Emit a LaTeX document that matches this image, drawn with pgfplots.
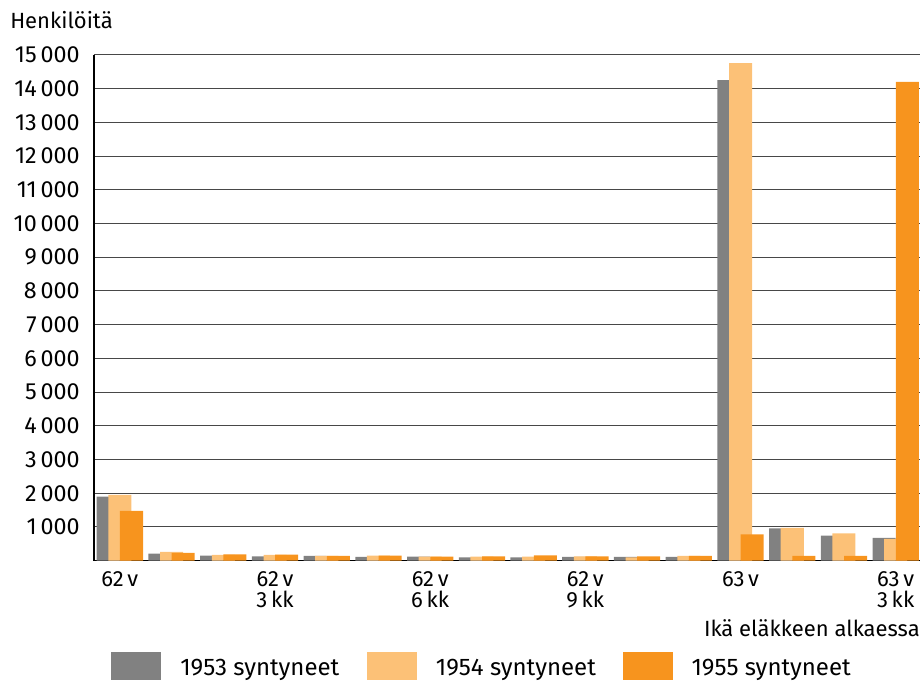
\documentclass[border=0pt]{standalone}
\usepackage{pgfplots}
\pgfplotsset{compat=1.18}
\usepackage{fontspec}
\setmainfont{Fira Sans}
\definecolor{cgrey}{HTML}{818181}
\definecolor{clight}{HTML}{FCC177}
\definecolor{cdark}{HTML}{F7941E}
\newcommand{\lfont}{\fontsize{16.5}{16}\selectfont}
\newcommand{\tfont}{\fontsize{17.5}{17}\selectfont}
\newcommand{\legfont}{\fontsize{18}{18}\selectfont}
\newcommand{\legentry}[1]{\raisebox{3.5pt}{\makebox[140pt][l]{#1}}}
\begin{document}
\begin{tikzpicture}
\useasboundingbox (-70.5pt,-90.225pt) rectangle (620.25pt,420.525pt);
\begin{axis}[
  at={(0pt,0pt)}, anchor=south west,
  scale only axis, width=619.5pt, height=379.3pt,
  xmin=-0.5, xmax=15.47, ymin=0, ymax=15000,
  axis lines=left, axis line style={-, black, line width=0.9pt},
  major tick length=0pt,
  ymajorgrids, grid style={black!72, line width=0.75pt},
  ytick={1000,2000,...,15000},
  scaled y ticks=false,
  /pgf/number format/.cd, 1000 sep={\,}, assume math mode=true, /pgfplots/.cd,
  yticklabel style={font=\tfont, inner sep=0pt, xshift=-10.5pt},
  xtick={0,3,6,9,12,15},
  xticklabels={{62\,v}, {62\,v\\3\,kk}, {62\,v\\6\,kk}, {62\,v\\9\,kk}, {63\,v}, {63\,v\\3\,kk}},
  xticklabel style={font=\lfont, align=center, inner sep=0pt, yshift=-8pt},
  legend columns=3,
  legend style={at={(rel axis cs:0,0)}, anchor=north west, xshift=12.75pt, yshift=-68.5pt,
    draw=none, fill=none, inner sep=0pt, column sep=0pt,
    nodes={inner sep=0pt}, font=\legfont},
  legend image code/.code={\fill[#1] (0pt,-7pt) rectangle (37.5pt,14pt); \path (51.75pt,0pt);},
  clip=false,
]
\addplot[ybar, bar width=0.445, bar shift=-0.225, fill=cgrey, draw=none] coordinates {
(0,1900) (1,210) (2,150) (3,130) (4,140) (5,110) (6,120) (7,100) (8,100) (9,110) (10,110) (11,110) (12,14250) (13,960) (14,740) (15,675)};
\addplot[ybar, bar width=0.445, bar shift=0, fill=clight, draw=none] coordinates {
(0,1950) (1,265) (2,170) (3,170) (4,140) (5,150) (6,120) (7,120) (8,120) (9,130) (10,100) (11,140) (12,14760) (13,970) (14,810) (15,645)};
\addplot[ybar, bar width=0.445, bar shift=0.225, fill=cdark, draw=none] coordinates {
(0,1475) (1,230) (2,190) (3,180) (4,140) (5,150) (6,120) (7,130) (8,160) (9,130) (10,130) (11,140) (12,780) (13,140) (14,140) (15,14200)};
\legend{\legentry{1953 syntyneet}, \legentry{1954 syntyneet}, \legentry{1955 syntyneet}}
\node[anchor=north east, inner sep=0pt, font=\lfont] at (rel axis cs:1,0) [yshift=-44pt] {Ikä eläkkeen alkaessa};
\node[anchor=north west, inner sep=0pt, font=\lfont] at (rel axis cs:0,1) [xshift=-63pt, yshift=33pt] {Henkilöitä};
\end{axis}
\end{tikzpicture}
\end{document}
